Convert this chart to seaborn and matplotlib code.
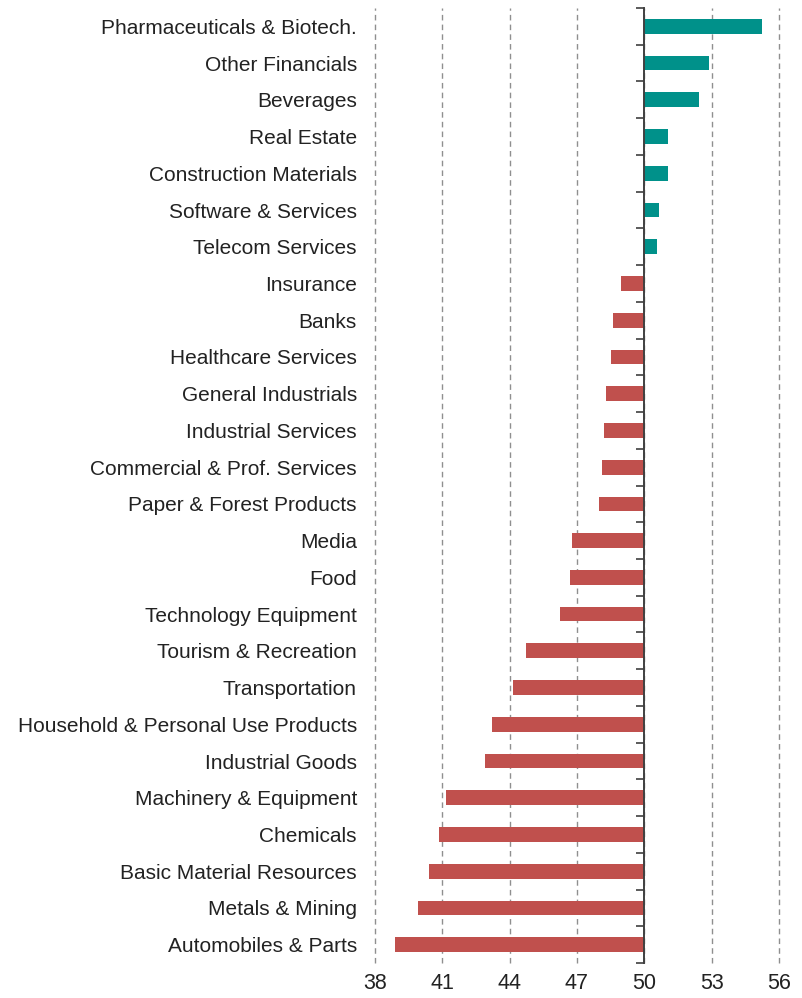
import numpy as np
import pandas as pd
import matplotlib
matplotlib.use("Agg")
import matplotlib.pyplot as plt
from matplotlib.ticker import FuncFormatter, FixedLocator
import seaborn as sns

sectors = [
    "Pharmaceuticals & Biotech.", "Other Financials", "Beverages", "Real Estate",
    "Construction Materials", "Software & Services", "Telecom Services", "Insurance",
    "Banks", "Healthcare Services", "General Industrials", "Industrial Services",
    "Commercial & Prof. Services", "Paper & Forest Products", "Media", "Food",
    "Technology Equipment", "Tourism & Recreation", "Transportation",
    "Household & Personal Use Products", "Industrial Goods", "Machinery & Equipment",
    "Chemicals", "Basic Material Resources", "Metals & Mining", "Automobiles & Parts",
]
index_values = [
    55.25, 52.9, 52.45, 51.05, 51.05, 50.65, 50.55, 48.98,
    48.6, 48.53, 48.31, 48.2, 48.13, 47.98, 46.8, 46.69,
    46.25, 44.73, 44.15, 43.22, 42.88, 41.16, 40.86, 40.42,
    39.91, 38.9,
]
x_ticks = [38, 41, 44, 47, 50, 53, 56]
baseline = 50

up_color = "#00918A"
down_color = "#C0504D"

df = pd.DataFrame({"sector": sectors, "value": index_values})
df["offset"] = df["value"] - baseline
df["direction"] = np.where(df["offset"] >= 0, "up", "down")

sns.set_theme(style="white")
plt.rcParams["font.family"] = ["Liberation Sans", "DejaVu Sans"]

fig = plt.figure(figsize=(8.03, 9.98), dpi=100)
ax = fig.add_axes([0.467, 0.035, 0.503, 0.957])

sns.barplot(
    data=df, y="sector", x="offset", hue="direction",
    palette={"up": up_color, "down": down_color},
    orient="h", dodge=False, legend=False, width=0.4, ax=ax,
    saturation=1,
)
for p in ax.patches:
    p.set_edgecolor("none")

ax.set_xlim(x_ticks[0] - baseline, x_ticks[-1] - baseline)
ax.set_ylim(len(sectors) - 0.5, -0.5)
ax.set_xticks([t - baseline for t in x_ticks])
ax.xaxis.set_major_formatter(FuncFormatter(lambda v, _: f"{v + baseline:.0f}"))
ax.xaxis.grid(True, linestyle=(0, (4, 3)), color="#8f8f8f", linewidth=1.0)
for gl in ax.get_xgridlines():
    gl.set_clip_on(False)
ax.set_axisbelow(True)
ax.set_xlabel("")
ax.set_ylabel("")
for s in ax.spines.values():
    s.set_visible(False)
ax.tick_params(axis="x", length=0, pad=7, labelsize=15.5, colors="#222222")
ax.tick_params(axis="y", length=0, pad=13, labelsize=15, colors="#222222")

# vertical axis at the baseline with ticks between categories
ax2 = ax.twinx()
ax2.set_ylim(ax.get_ylim())
for name, s in ax2.spines.items():
    s.set_visible(name == "right")
ax2.spines["right"].set_position(("data", 0))
ax2.spines["right"].set_color("#404040")
ax2.spines["right"].set_linewidth(1.4)
ax2.yaxis.set_major_locator(FixedLocator(np.arange(-0.5, len(sectors), 1.0)))
ax2.tick_params(axis="y", direction="in", length=6, width=1.2, color="#404040",
                labelright=False, right=True, left=False)

fig.savefig("out.png", dpi=100)
